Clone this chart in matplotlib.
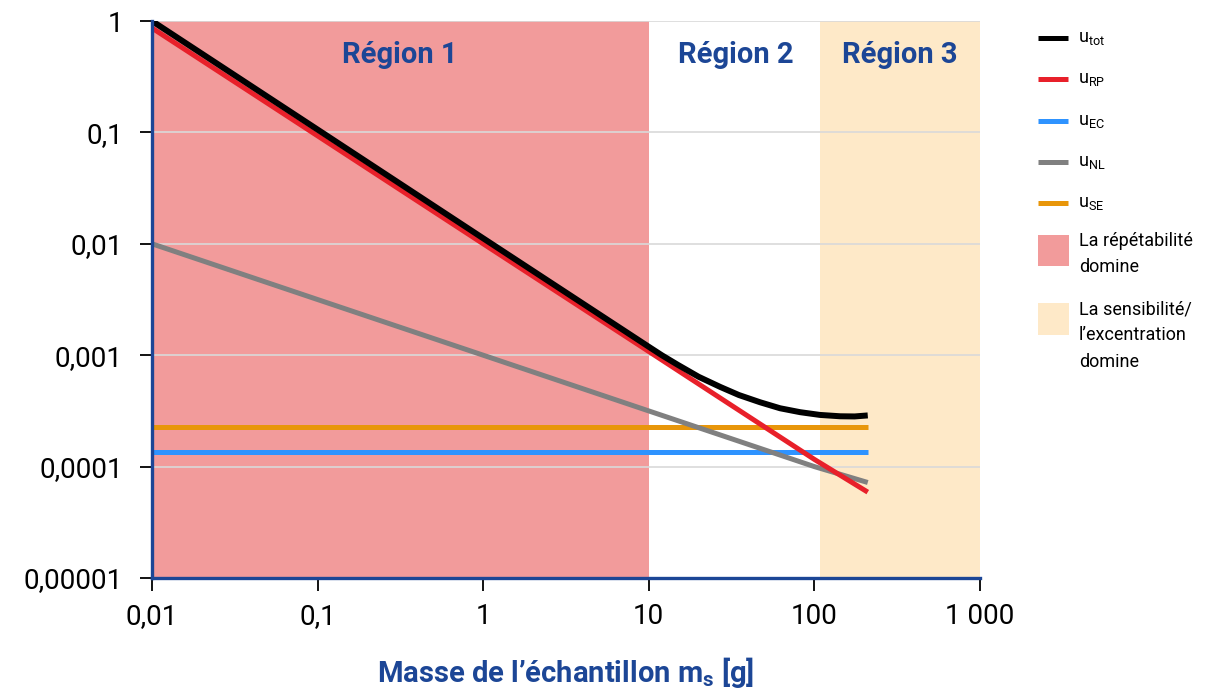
import matplotlib.pyplot as plt
import numpy as np
from matplotlib.lines import Line2D
from matplotlib.patches import Rectangle

plt.rcParams['font.family'] = ['Roboto', 'DejaVu Sans']
plt.rcParams['mathtext.fontset'] = 'custom'
plt.rcParams['mathtext.rm'] = 'Roboto'
plt.rcParams['mathtext.bf'] = 'Roboto:bold'

# data
mass = [0.01, 0.1, 1, 10, 100, 210]
u_rp = [0.865, 0.0931, 0.0100, 1.08e-3, 1.16e-4, 5.9e-5]
u_nl = [0.01, 3.16e-3, 1.0e-3, 3.16e-4, 1.0e-4, 7.2e-5]
u_ec = [1.35e-4] * 6
u_se = [2.27e-4] * 6

mass_tot = [0.01, 0.1, 1, 10, 12, 15, 20, 27, 35, 47, 62, 82, 108, 143, 175, 210]
u_tot = [1.0, 0.106, 0.0112, 1.19e-3, 9.98e-4, 8.18e-4, 6.40e-4, 5.19e-4, 4.39e-4,
         3.78e-4, 3.34e-4, 3.08e-4, 2.91e-4, 2.83e-4, 2.82e-4, 2.88e-4]

region_1 = (0.01, 10)
region_3 = (108, 1000)

xticks = [0.01, 0.1, 1, 10, 100, 1000]
xtick_labels = ['0,01', '0,1', '1', '10', '100', '1 000']
yticks = [1e-5, 1e-4, 1e-3, 1e-2, 1e-1, 1]
ytick_labels = ['0,00001', '0,0001', '0,001', '0,01', '0,1', '1']

blue = '#1c4696'
c_red_fill = '#f29b9b'
c_beige_fill = '#fee9c8'
c_tot, c_rp, c_ec, c_nl, c_se = 'black', '#e8202a', '#2e93ff', '#808080', '#e8960a'

fig = plt.figure(figsize=(12.12, 6.93), dpi=100)
ax = fig.add_axes([152 / 1212, 1 - 578 / 693, (980 - 152) / 1212, (578 - 21) / 693])

ax.axvspan(*region_1, color=c_red_fill, lw=0, zorder=0.2)
ax.axvspan(*region_3, color=c_beige_fill, lw=0, zorder=0.2)

ax.plot(mass, u_se, color=c_se, lw=3.6, zorder=2, solid_capstyle='butt')
ax.plot(mass, u_ec, color=c_ec, lw=3.6, zorder=3, solid_capstyle='butt')
ax.plot(mass, u_nl, color=c_nl, lw=3.6, zorder=4, solid_capstyle='butt')
ax.plot(mass, u_rp, color=c_rp, lw=3.6, zorder=5, solid_capstyle='butt')
ax.plot(mass_tot, u_tot, color=c_tot, lw=4.3, zorder=6, solid_capstyle='butt',
        solid_joinstyle='round')

ax.set_xscale('log')
ax.set_yscale('log')
ax.set_xlim(0.01, 1000)
ax.set_ylim(1e-5, 1)
ax.set_xticks(xticks)
ax.set_xticklabels(xtick_labels)
ax.set_yticks(yticks)
ax.set_yticklabels(ytick_labels)
ax.minorticks_off()
ax.tick_params(axis='both', direction='out', length=9, width=1.3, color='black',
               labelsize=20)
ax.tick_params(axis='y', pad=12)
ax.tick_params(axis='x', pad=9)

ax.set_axisbelow(True)
ax.yaxis.grid(True, color='#d9d9d9', lw=1.2)
ax.xaxis.grid(False)

for s in ['top', 'right']:
    ax.spines[s].set_visible(False)
for s in ['left', 'bottom']:
    ax.spines[s].set_color(blue)
    ax.spines[s].set_linewidth(2.4)
    ax.spines[s].set_zorder(7)

ax.set_xlabel('Masse de l\u2019échantillon m$_\\mathbf{s}$ [g]', fontsize=21,
              fontweight='bold', color=blue, labelpad=18)

region_font = dict(fontsize=21, fontweight='bold', color=blue, ha='center', va='center')
trans = ax.get_xaxis_transform()
ax.text(0.315, 0.939, 'Région 1', transform=trans, **region_font)
ax.text(33.6, 0.939, 'Région 2', transform=trans, **region_font)
ax.text(329, 0.939, 'Région 3', transform=trans, **region_font)

# legend drawn by hand, positions in pixels of the figure
W, H = 1212, 693
line_items = [('tot', c_tot, 38), ('RP', c_rp, 79), ('EC', c_ec, 121),
              ('NL', c_nl, 162), ('SE', c_se, 203)]
for sub, col, py in line_items:
    fig.add_artist(Line2D([1038 / W, 1068 / W], [1 - py / H, 1 - py / H],
                          color=col, lw=3.6, solid_capstyle='butt'))
    fig.text(1078 / W, 1 - py / H, 'u$_\\mathregular{%s}$' % sub, fontsize=13,
             va='center', ha='left')

patch_items = [(c_red_fill, 235, 266, 'La répétabilité\ndomine', 232),
               (c_beige_fill, 303, 335, 'La sensibilité/\nl\u2019excentration\ndomine', 300)]
for col, top, bot, label, ty in patch_items:
    fig.add_artist(Rectangle((1038 / W, 1 - bot / H), 31 / W, (bot - top) / H,
                             color=col, lw=0))
    fig.text(1079 / W, 1 - ty / H, label, fontsize=13, va='top', ha='left',
             linespacing=1.6)

fig.savefig('out.png', dpi=100)
